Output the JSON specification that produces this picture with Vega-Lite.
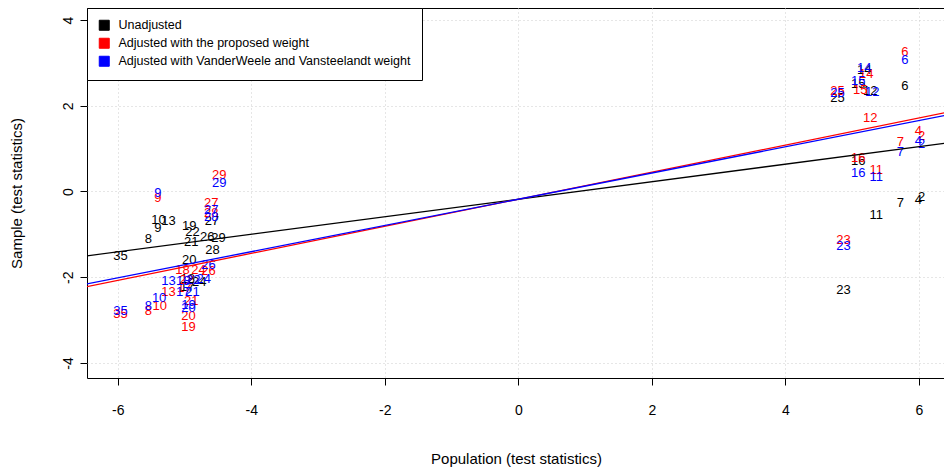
{
  "$schema": "https://vega.github.io/schema/vega-lite/v6.json",
  "autosize": {"type": "none"},
  "padding": {"left": 87, "top": 8, "right": 0, "bottom": 95},
  "width": 858,
  "height": 370,
  "background": "white",
  "config": {
    "font": "Liberation Sans",
    "view": {"stroke": "black", "strokeWidth": 1},
    "axis": {
      "domain": false,
      "grid": true,
      "gridColor": "#cccccc",
      "gridDash": [1, 3],
      "gridWidth": 1,
      "tickColor": "black",
      "tickSize": 7,
      "labelFont": "Liberation Sans",
      "labelFontSize": 14,
      "labelColor": "black",
      "titleFont": "Liberation Sans",
      "titleFontSize": 15,
      "titleFontWeight": "normal",
      "titleColor": "black"
    }
  },
  "datasets": {
    "pts": [
      {"x": -5.96, "y": -1.50, "id": "35", "series": "Unadjusted"},
      {"x": -5.54, "y": -1.11, "id": "8", "series": "Unadjusted"},
      {"x": -5.40, "y": -0.85, "id": "9", "series": "Unadjusted"},
      {"x": -5.39, "y": -0.66, "id": "10", "series": "Unadjusted"},
      {"x": -5.24, "y": -0.69, "id": "13", "series": "Unadjusted"},
      {"x": -4.93, "y": -0.80, "id": "19", "series": "Unadjusted"},
      {"x": -4.88, "y": -0.94, "id": "22", "series": "Unadjusted"},
      {"x": -4.90, "y": -1.18, "id": "21", "series": "Unadjusted"},
      {"x": -4.66, "y": -1.06, "id": "26", "series": "Unadjusted"},
      {"x": -4.49, "y": -1.08, "id": "29", "series": "Unadjusted"},
      {"x": -4.58, "y": -1.36, "id": "28", "series": "Unadjusted"},
      {"x": -4.93, "y": -1.60, "id": "20", "series": "Unadjusted"},
      {"x": -4.59, "y": -0.69, "id": "27", "series": "Unadjusted"},
      {"x": -4.78, "y": -2.11, "id": "24", "series": "Unadjusted"},
      {"x": -4.95, "y": -2.04, "id": "18", "series": "Unadjusted"},
      {"x": -4.96, "y": -2.23, "id": "17", "series": "Unadjusted"},
      {"x": 4.78, "y": 2.18, "id": "25", "series": "Unadjusted"},
      {"x": 5.18, "y": 2.83, "id": "14", "series": "Unadjusted"},
      {"x": 5.09, "y": 2.51, "id": "15", "series": "Unadjusted"},
      {"x": 5.27, "y": 2.34, "id": "12", "series": "Unadjusted"},
      {"x": 5.79, "y": 2.46, "id": "6", "series": "Unadjusted"},
      {"x": 5.09, "y": 0.71, "id": "16", "series": "Unadjusted"},
      {"x": 5.72, "y": -0.27, "id": "7", "series": "Unadjusted"},
      {"x": 5.99, "y": -0.20, "id": "4", "series": "Unadjusted"},
      {"x": 6.04, "y": -0.13, "id": "2", "series": "Unadjusted"},
      {"x": 5.36, "y": -0.55, "id": "11", "series": "Unadjusted"},
      {"x": 4.87, "y": -2.30, "id": "23", "series": "Unadjusted"},

      {"x": -4.48, "y": 0.38, "id": "29", "series": "Adjusted with the proposed weight"},
      {"x": -5.40, "y": -0.15, "id": "9", "series": "Adjusted with the proposed weight"},
      {"x": -4.60, "y": -0.27, "id": "27", "series": "Adjusted with the proposed weight"},
      {"x": -4.60, "y": -0.50, "id": "28", "series": "Adjusted with the proposed weight"},
      {"x": -4.64, "y": -1.85, "id": "26", "series": "Adjusted with the proposed weight"},
      {"x": -4.79, "y": -1.83, "id": "24", "series": "Adjusted with the proposed weight"},
      {"x": -5.03, "y": -1.83, "id": "18", "series": "Adjusted with the proposed weight"},
      {"x": -4.97, "y": -2.06, "id": "22", "series": "Adjusted with the proposed weight"},
      {"x": -5.00, "y": -2.25, "id": "17", "series": "Adjusted with the proposed weight"},
      {"x": -5.24, "y": -2.34, "id": "13", "series": "Adjusted with the proposed weight"},
      {"x": -5.37, "y": -2.67, "id": "10", "series": "Adjusted with the proposed weight"},
      {"x": -5.54, "y": -2.79, "id": "8", "series": "Adjusted with the proposed weight"},
      {"x": -5.96, "y": -2.86, "id": "35", "series": "Adjusted with the proposed weight"},
      {"x": -4.90, "y": -2.55, "id": "21", "series": "Adjusted with the proposed weight"},
      {"x": -4.94, "y": -2.90, "id": "20", "series": "Adjusted with the proposed weight"},
      {"x": -4.94, "y": -3.16, "id": "19", "series": "Adjusted with the proposed weight"},
      {"x": 5.79, "y": 3.25, "id": "6", "series": "Adjusted with the proposed weight"},
      {"x": 5.21, "y": 2.74, "id": "14", "series": "Adjusted with the proposed weight"},
      {"x": 5.12, "y": 2.37, "id": "15", "series": "Adjusted with the proposed weight"},
      {"x": 4.78, "y": 2.34, "id": "25", "series": "Adjusted with the proposed weight"},
      {"x": 5.27, "y": 1.71, "id": "12", "series": "Adjusted with the proposed weight"},
      {"x": 5.99, "y": 1.41, "id": "4", "series": "Adjusted with the proposed weight"},
      {"x": 6.04, "y": 1.29, "id": "2", "series": "Adjusted with the proposed weight"},
      {"x": 5.72, "y": 1.15, "id": "7", "series": "Adjusted with the proposed weight"},
      {"x": 5.09, "y": 0.78, "id": "16", "series": "Adjusted with the proposed weight"},
      {"x": 5.36, "y": 0.50, "id": "11", "series": "Adjusted with the proposed weight"},
      {"x": 4.87, "y": -1.13, "id": "23", "series": "Adjusted with the proposed weight"},

      {"x": -4.48, "y": 0.20, "id": "29", "series": "Adjusted with VanderWeele and Vansteelandt weight"},
      {"x": -5.40, "y": -0.03, "id": "9", "series": "Adjusted with VanderWeele and Vansteelandt weight"},
      {"x": -4.60, "y": -0.43, "id": "27", "series": "Adjusted with VanderWeele and Vansteelandt weight"},
      {"x": -4.60, "y": -0.59, "id": "28", "series": "Adjusted with VanderWeele and Vansteelandt weight"},
      {"x": -4.64, "y": -1.71, "id": "26", "series": "Adjusted with VanderWeele and Vansteelandt weight"},
      {"x": -4.71, "y": -2.04, "id": "24", "series": "Adjusted with VanderWeele and Vansteelandt weight"},
      {"x": -4.87, "y": -2.06, "id": "22", "series": "Adjusted with VanderWeele and Vansteelandt weight"},
      {"x": -5.02, "y": -2.09, "id": "18", "series": "Adjusted with VanderWeele and Vansteelandt weight"},
      {"x": -5.24, "y": -2.09, "id": "13", "series": "Adjusted with VanderWeele and Vansteelandt weight"},
      {"x": -5.02, "y": -2.34, "id": "17", "series": "Adjusted with VanderWeele and Vansteelandt weight"},
      {"x": -4.88, "y": -2.34, "id": "21", "series": "Adjusted with VanderWeele and Vansteelandt weight"},
      {"x": -5.38, "y": -2.48, "id": "10", "series": "Adjusted with VanderWeele and Vansteelandt weight"},
      {"x": -5.54, "y": -2.67, "id": "8", "series": "Adjusted with VanderWeele and Vansteelandt weight"},
      {"x": -5.96, "y": -2.79, "id": "35", "series": "Adjusted with VanderWeele and Vansteelandt weight"},
      {"x": -4.94, "y": -2.65, "id": "19", "series": "Adjusted with VanderWeele and Vansteelandt weight"},
      {"x": -4.94, "y": -2.72, "id": "20", "series": "Adjusted with VanderWeele and Vansteelandt weight"},
      {"x": 5.79, "y": 3.07, "id": "6", "series": "Adjusted with VanderWeele and Vansteelandt weight"},
      {"x": 5.18, "y": 2.88, "id": "14", "series": "Adjusted with VanderWeele and Vansteelandt weight"},
      {"x": 5.09, "y": 2.58, "id": "15", "series": "Adjusted with VanderWeele and Vansteelandt weight"},
      {"x": 4.78, "y": 2.30, "id": "25", "series": "Adjusted with VanderWeele and Vansteelandt weight"},
      {"x": 5.30, "y": 2.32, "id": "12", "series": "Adjusted with VanderWeele and Vansteelandt weight"},
      {"x": 5.99, "y": 1.18, "id": "4", "series": "Adjusted with VanderWeele and Vansteelandt weight"},
      {"x": 6.04, "y": 1.11, "id": "2", "series": "Adjusted with VanderWeele and Vansteelandt weight"},
      {"x": 5.72, "y": 0.92, "id": "7", "series": "Adjusted with VanderWeele and Vansteelandt weight"},
      {"x": 5.09, "y": 0.43, "id": "16", "series": "Adjusted with VanderWeele and Vansteelandt weight"},
      {"x": 5.36, "y": 0.34, "id": "11", "series": "Adjusted with VanderWeele and Vansteelandt weight"},
      {"x": 4.87, "y": -1.27, "id": "23", "series": "Adjusted with VanderWeele and Vansteelandt weight"}
    ],
    "fits": [
      {"x": -7, "y": -1.61, "series": "Unadjusted"},
      {"x": 7, "y": 1.25, "series": "Unadjusted"},
      {"x": -7, "y": -2.39, "series": "Adjusted with the proposed weight"},
      {"x": 7, "y": 2.03, "series": "Adjusted with the proposed weight"},
      {"x": -7, "y": -2.32, "series": "Adjusted with VanderWeele and Vansteelandt weight"},
      {"x": 7, "y": 1.96, "series": "Adjusted with VanderWeele and Vansteelandt weight"}
    ]
  },
  "encoding": {
    "x": {"field": "x", "type": "quantitative", "scale": {"domain": [-6.46, 6.39], "nice": false, "zero": false},
          "axis": {"values": [-6, -4, -2, 0, 2, 4, 6], "labelExpr": "'' + datum.value", "title": "Population (test statistics)", "labelPadding": 18, "titlePadding": 34}},
    "y": {"field": "y", "type": "quantitative", "scale": {"domain": [-4.35, 4.28], "nice": false, "zero": false},
          "axis": {"values": [-4, -2, 0, 2, 4], "labelExpr": "'' + datum.value", "title": "Sample (test statistics)", "labelAngle": -90, "labelAlign": "center", "labelBaseline": "bottom", "labelPadding": 5, "titlePadding": 37}},
    "color": {"field": "series", "type": "nominal",
              "scale": {"domain": ["Unadjusted", "Adjusted with the proposed weight", "Adjusted with VanderWeele and Vansteelandt weight"], "range": ["black", "red", "blue"]},
              "legend": {"title": null, "orient": "none", "legendX": 0, "legendY": 0, "direction": "vertical",
                         "fillColor": "white", "strokeColor": "black", "padding": 11, "labelLimit": 500,
                         "symbolType": "square", "symbolSize": 100, "symbolStrokeColor": "black", "symbolStrokeWidth": 1, "symbolOpacity": 1,
                         "labelFontSize": 12.5, "labelFont": "Liberation Sans", "labelColor": "black", "labelOffset": 8, "rowPadding": 3}}
  },
  "layer": [
    {
      "data": {"name": "pts"},
      "mark": {"type": "text", "fontSize": 13, "font": "Liberation Sans", "align": "center", "baseline": "middle", "clip": true},
      "encoding": {
        "text": {"field": "id"}
      }
    },
    {
      "data": {"name": "fits"},
      "mark": {"type": "line", "clip": true, "strokeWidth": 1.3},
      "encoding": {
        "detail": {"field": "series"}
      }
    }
  ]
}
